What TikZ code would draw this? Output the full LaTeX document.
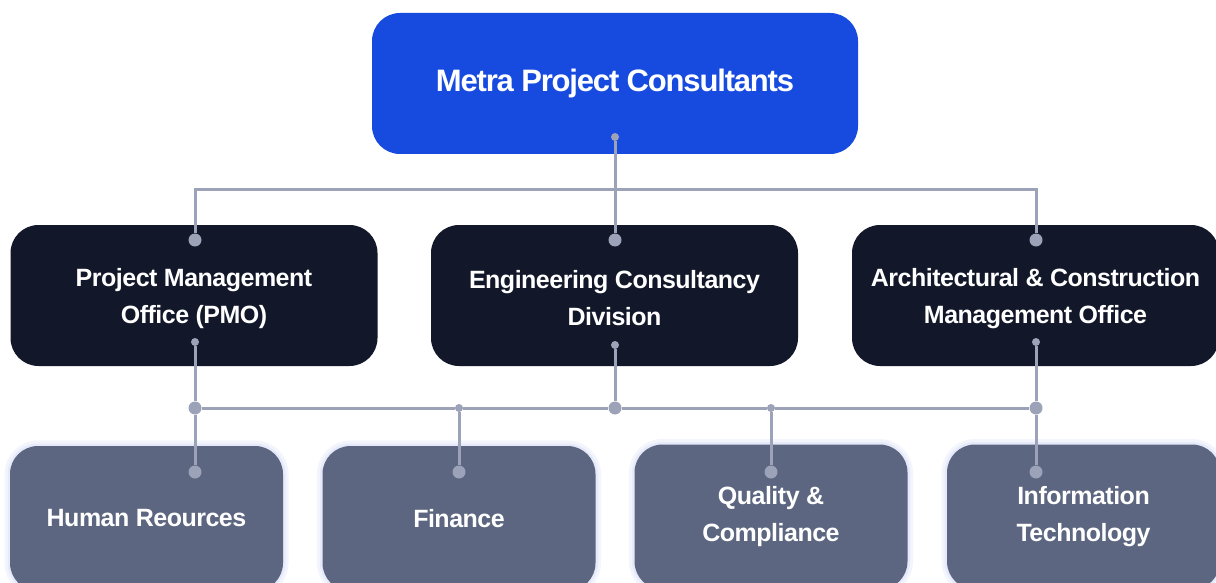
\documentclass[tikz,border=0pt]{standalone}
\usepackage{fontspec}
\setmainfont{Liberation Sans}
\definecolor{topblue}{HTML}{174BE0}
\definecolor{navy}{HTML}{121729}
\definecolor{slate}{HTML}{5C6680}
\definecolor{linkc}{HTML}{9CA3B8}
\definecolor{glowA}{HTML}{F3F5FD}
\definecolor{glowB}{HTML}{E6EAFA}
\newfontfamily\tightbold[LetterSpace=-3.8]{Liberation Sans Bold}
\newfontfamily\midbold[LetterSpace=-2]{Liberation Sans Bold}
\begin{document}
\begin{tikzpicture}[x=1pt,y=-1pt,
  box/.style={rounded corners=28pt, minimum height=141pt, align=center, text=white, inner sep=0pt},
  topbox/.style={box, fill=topblue, minimum width=486pt, font=\tightbold\fontsize{31}{37}\selectfont},
  midbox/.style={box, fill=navy, minimum width=367pt},
  midtext/.style={align=center, text=white, inner sep=0pt, font=\midbold\fontsize{25}{37}\selectfont},
  botbox/.style={box, fill=slate, minimum width=273pt, minimum height=145pt, font=\midbold\fontsize{25}{37}\selectfont,
     preaction={draw=glowA, line width=11pt}, preaction={draw=glowB, line width=5pt}},
  link/.style={draw=linkc, line width=3pt},
  bigdot/.style={circle, fill=linkc, minimum size=13pt, inner sep=0pt},
  smalldot/.style={circle, fill=linkc, minimum size=8pt, inner sep=0pt}]
\useasboundingbox (0,0) rectangle (1216,583);
\begin{scope}
\clip (0,0) rectangle (1216,583);
\fill[white] (0,0) rectangle (1216,583);
% boxes
\node[topbox] (top) at (615,83.5) {Metra Project Consultants};
\node[midbox] (pmo) at (194,295.5) {};
\node[midbox] (eng) at (614.5,295.5) {};
\node[midbox] (acm) at (1035.5,295.5) {};
\node[midtext] (pmoT) at (194,298.5) {Project Management\\Office (PMO)};
\node[midtext] (engT) at (614.5,298.5) {Engineering Consultancy\\Division};
\node[midtext] (acmT) at (1035.5,298.5) {Architectural \& Construction\\Management Office};
\node[botbox] (hr) at (146.5,518.5) {Human Reources};
\node[botbox] (fin) at (459,518.5) {Finance};
\node[botbox] (qc) at (771,517) {Quality \&\\Compliance};
\node[botbox] (it) at (1083.5,517) {Information\\Technology};
% dots
\node[smalldot] (topOut) at (615,137) {};
\node[bigdot] (pmoIn) at (195,240) {};
\node[bigdot] (engIn) at (615,240) {};
\node[bigdot] (acmIn) at (1036,240) {};
\coordinate (jt) at (615,190);
\node[smalldot] (pmoOut) at (195,342) {};
\node[smalldot] (engOut) at (615,345) {};
\node[smalldot] (acmOut) at (1036,342) {};
\node[bigdot] (jL) at (195,408) {};
\node[bigdot] (jM) at (615,408) {};
\node[bigdot] (jR) at (1036,408) {};
\node[smalldot] (jF) at (459,408) {};
\node[smalldot] (jQ) at (771,408) {};
\node[bigdot] (hrIn) at (195,472) {};
\node[bigdot] (finIn) at (459,472) {};
\node[bigdot] (qcIn) at (771,472) {};
\node[bigdot] (itIn) at (1036,472) {};
% connectors
\draw[link] (topOut) -- (engIn);
\draw[link] (pmoIn) |- (jt) -| (acmIn);
\draw[link] (pmoOut) -- (jL);
\draw[link] (engOut) -- (jM);
\draw[link] (acmOut) -- (jR);
\draw[link] (jL) -- (jF) -- (jM) -- (jQ) -- (jR);
\draw[link] (jL) -- (hrIn);
\draw[link] (jF) -- (finIn);
\draw[link] (jQ) -- (qcIn);
\draw[link] (jR) -- (itIn);
\end{scope}
\end{tikzpicture}
\end{document}
